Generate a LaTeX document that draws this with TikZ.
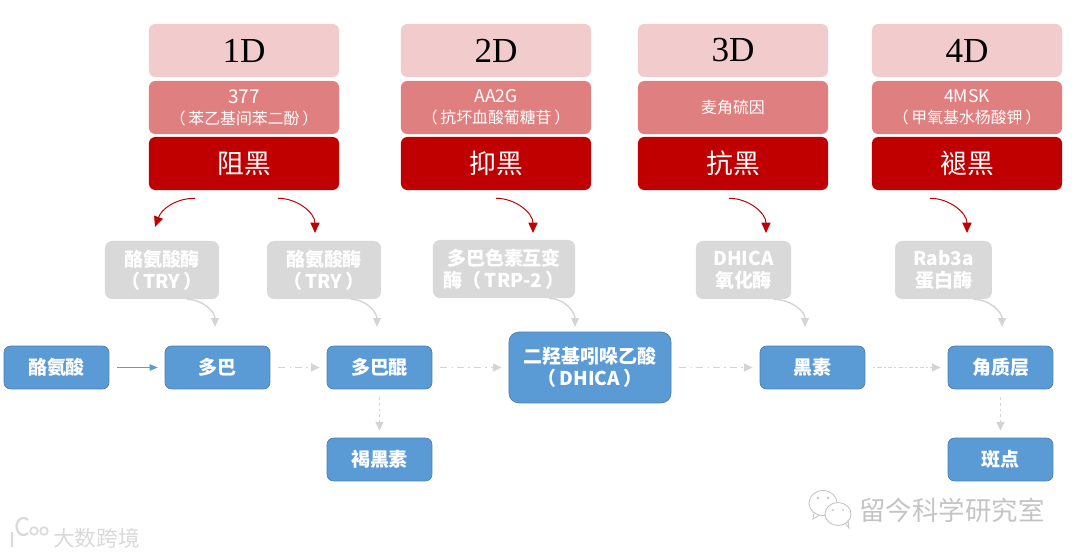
\documentclass[tikz,border=0pt]{standalone}
\usepackage{fontspec}
\setmainfont{Noto Sans CJK SC}
\newfontfamily\dimfont{Liberation Serif}
\usetikzlibrary{arrows.meta, positioning, calc}
\definecolor{dimpink}{HTML}{F2CBCD}
\definecolor{agentrose}{HTML}{DF7F7F}
\definecolor{actionred}{HTML}{C00000}
\definecolor{stepblue}{HTML}{5B9BD5}
\definecolor{stepedge}{HTML}{4A7FB0}
\definecolor{enzymegray}{HTML}{D9D9D9}
\definecolor{flowgray}{HTML}{D4D4D4}
\definecolor{markgray}{HTML}{C4C4C4}
\tikzset{
  tier/.style={rounded corners=4.5pt, inner sep=0pt, minimum width=4.75cm,
    minimum height=1.325cm, align=center},
  stepbox/.style={draw=stepedge, line width=0.5pt, fill=stepblue, rounded corners=4.5pt,
    inner sep=0pt, minimum width=2.62cm, minimum height=1.07cm, align=center, text=white,
    font=\fontsize{13.5}{15.6}\selectfont\bfseries},
  enzyme/.style={fill=enzymegray, rounded corners=5pt, inner sep=0pt, minimum height=1.45cm,
    align=center, text=white, font=\fontsize{13.5}{15.6}\selectfont\bfseries},
  inhibit/.style={-{Triangle[length=2.6mm,width=2.3mm]}, actionred, line width=0.7pt},
  feed/.style={-{Triangle[length=2.2mm,width=1.9mm]}, flowgray, line width=1pt},
  flow/.style={-{Triangle[length=2.2mm,width=2mm]}, flowgray, line width=0.8pt,
    dash pattern=on 5pt off 3pt on 1pt off 3pt, shorten >=7*0.711pt, shorten <=8*0.711pt}
}
\newcommand{\effectcol}[5]{%
  \node[tier, fill=dimpink, font=\dimfont\fontsize{25}{27}\selectfont, text=black] (#1top) at (#2,50.5) {\raisebox{-1.2pt}{#3}};
  \node[tier, fill=agentrose, text=white, font=\fontsize{11.3}{15}\selectfont] (#1mid) at (#2,107.5) {\raisebox{-1.4pt}{\parbox{4.7cm}{\centering #4}}};
  \node[tier, fill=actionred, text=white, font=\fontsize{19}{21}\selectfont] (#1low) at (#2,163.5) {\raisebox{-0.8pt}{#5}};}

\begin{document}
\begin{tikzpicture}[x=0.025cm, y=-0.025cm]
  \useasboundingbox (0,0) rectangle (1080,558);
  \effectcol{a}{244}{1D}{{\fontsize{13.5}{15}\selectfont 377}\\（\,苯乙基间苯二酚\,）}{阻黑}
  \effectcol{b}{496}{2D}{{\fontsize{12.5}{15}\selectfont AA2G}\\（\,抗坏血酸葡糖苷\,）}{抑黑}
  \effectcol{c}{733}{3D}{麦角硫因}{抗黑}
  \effectcol{d}{967}{4D}{{\fontsize{12.5}{15}\selectfont 4MSK}\\（\,甲氧基水杨酸钾\,）}{褪黑}
  % enzymes
  \node[enzyme, minimum width=2.85cm] (try1) at (162,270) {酪氨酸酶\\（\,TRY\,）};
  \node[enzyme, minimum width=2.85cm] (try2) at (324,270) {酪氨酸酶\\（\,TRY\,）};
  \node[enzyme, minimum width=3.55cm] (trp2) at (504,269) {多巴色素互变\\酶（\,TRP-2\,）};
  \node[enzyme, minimum width=2.38cm] (dhicao) at (743.5,270) {DHICA\\氧化酶};
  \node[enzyme, minimum width=2.42cm] (rab) at (943.5,270) {Rab3a\\蛋白酶};
  % pathway
  \node[stepbox] (tyr) at (56.5,367.5) {酪氨酸};
  \node[stepbox] (dopa) at (217.5,367.5) {多巴};
  \node[stepbox] (quin) at (379.5,367.5) {多巴醌};
  \node[stepbox, minimum width=4.05cm, minimum height=1.77cm, rounded corners=7pt] (dhica) at (590,367.5) {二羟基吲哚乙酸\\（\,DHICA\,）};
  \node[stepbox] (mel) at (812.5,367.5) {黑素};
  \node[stepbox] (horn) at (1000.5,367.5) {角质层};
  \node[stepbox] (pheo) at (379.5,459.5) {褐黑素};
  \node[stepbox] (spot) at (1000.5,459.5) {斑点};
  \draw[-{Triangle[length=2mm,width=1.6mm]}, stepblue, line width=0.9pt, shorten >=7*0.711pt, shorten <=8*0.711pt] (tyr) -- (dopa);
  \draw[flow] (dopa) -- (quin);
  \draw[flow] (quin) -- (dhica);
  \draw[flow] (dhica) -- (mel);
  \draw[flow, dash pattern=on 1.5pt off 1.5pt on 3pt off 1.5pt] (mel) -- (horn);
  \draw[flow, dash pattern=on 2pt off 2pt] (quin) -- (pheo);
  \draw[flow, dash pattern=on 2pt off 2pt] (horn) -- (spot);
  % free ends of the curved arrows
  \coordinate (ra) at (155,227);
  \coordinate (rb) at (315,233);
  \coordinate (rc) at (533,233);
  \coordinate (rd) at (766,233);
  \coordinate (re) at (967,233);
  \coordinate (ga) at (215,327);
  \coordinate (gb) at (377,327);
  \coordinate (gc) at (575,327);
  \coordinate (gd) at (805,327);
  \coordinate (ge) at (1002,327);
  \draw[inhibit] ($(alow.south)+(-49,8)$) to[out=180, in=70] (ra);
  \draw[inhibit] ($(alow.south)+(34,8)$) to[out=0, in=90] (rb);
  \draw[inhibit] ($(blow.south)+(0,8)$) to[out=0, in=90] (rc);
  \draw[inhibit] ($(clow.south)+(-4,8)$) to[out=0, in=90] (rd);
  \draw[inhibit] ($(dlow.south)+(-37,8)$) to[out=0, in=90] (re);
  \draw[feed] ($(try1.south)+(25,0)$) to[out=0, in=90] (ga);
  \draw[feed] ($(try2.south)+(27,0)$) to[out=0, in=90] (gb);
  \draw[feed] ($(trp2.south)+(45,0)$) to[out=0, in=90] (gc);
  \draw[feed] ($(dhicao.south)+(30,0)$) to[out=0, in=90] (gd);
  \draw[feed] ($(rab.south)+(30,0)$) to[out=0, in=90] (ge);
  % watermarks
  \node[text=markgray, font=\fontsize{18.8}{20}\selectfont, inner sep=0pt] (lab) at (952,510) {留今科学研究室};
  \draw[markgray, line width=0.6pt] (823,503) ellipse (14 and 12.5);
  \draw[markgray, line width=0.6pt, fill=white] (838,514) ellipse (13 and 11.5);
  \draw[markgray, line width=0.6pt] (814,513) -- (813,519) -- (820,515);
  \draw[markgray, line width=0.6pt] (845,523) -- (849,528) -- (848,520);
  \fill[markgray] (818,498) circle (1.3) (828,498) circle (1.3) (833,510) circle (1.2) (843,510) circle (1.2);
  \node[text=enzymegray, font=\fontsize{15.4}{17}\selectfont, inner sep=0pt] (site) at (96.5,538) {大数跨境};
  \draw[enzymegray, line width=1.6pt] (12,532) -- (12,547) (28,533) arc (50:310:7 and 8.5);
  \draw[enzymegray, line width=1.2pt] (34,531) circle (3.8) (44,531) circle (3.8);
\end{tikzpicture}
\end{document}
